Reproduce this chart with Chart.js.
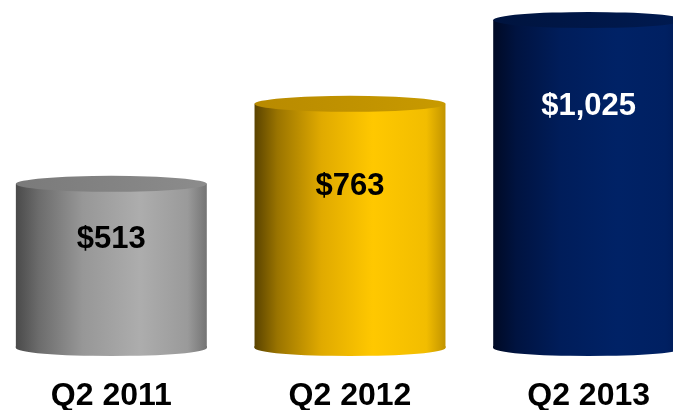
<!DOCTYPE html>
<html>
<head>
<meta charset="utf-8">
<script src="https://cdn.jsdelivr.net/npm/chart.js@4"></script>
<style>
  html, body { margin: 0; padding: 0; background: #fff; overflow: hidden; }
  #wrap { position: absolute; left: -8px; top: 0; width: 716px; height: 410px; }
</style>
</head>
<body>
<div id="wrap"><canvas id="chart" width="716" height="410"></canvas></div>
<script>
const quarters = ['Q2 2011', 'Q2 2012', 'Q2 2013'];
const revenue  = [513, 763, 1025];
const valueLabels = ['$513', '$763', '$1,025'];
const labelColors = ['#000', '#000', '#fff'];

// side shading (left → right) and lid colour for each cylinder
const sideStops = [
  [[0, '#4a4a4a'], [0.12, '#6c6c6c'], [0.35, '#979797'], [0.65, '#adadad'], [0.9, '#9a9a9a'], [1, '#747474']],
  [[0, '#5a4300'], [0.12, '#9a7400'], [0.35, '#e0aa00'], [0.62, '#ffc800'], [0.9, '#f2bd00'], [1, '#c29400']],
  [[0, '#000a25'], [0.12, '#001340'], [0.35, '#001d5a'], [0.65, '#002266'], [0.9, '#002062'], [1, '#001a55']],
];
const lidColors = [['#7a7a7a', '#8c8c8c'], ['#b88a00', '#c89a00'], ['#00143f', '#001a50']];

const BAR_PCT = 0.8;
const RY = 8;

function sideGradient(chart, i, cx, half) {
  const g = chart.ctx.createLinearGradient(cx - half, 0, cx + half, 0);
  sideStops[i].forEach(([o, c]) => g.addColorStop(o, c));
  return g;
}

function shade(c) {
  const chart = c.chart, xs = chart.scales.x;
  if (!chart.chartArea || !xs || c.dataIndex == null) return sideStops[c.dataIndex || 0][3][1];
  const cx = xs.getPixelForValue(c.dataIndex);
  const half = xs.width / quarters.length * BAR_PCT / 2;
  return sideGradient(chart, c.dataIndex, cx, half);
}

const cylinders = {
  id: 'cylinders',
  beforeDatasetsDraw(chart) {
    const ctx = chart.ctx;
    chart.getDatasetMeta(0).data.forEach((bar, i) => {
      const half = bar.width / 2;
      ctx.save();
      ctx.fillStyle = sideGradient(chart, i, bar.x, half);
      ctx.beginPath();
      ctx.moveTo(bar.x - half, bar.base - 2);
      ctx.lineTo(bar.x + half, bar.base - 2);
      ctx.ellipse(bar.x, bar.base, half, RY, 0, 0, Math.PI);
      ctx.closePath();
      ctx.fill();
      ctx.restore();
    });
  },
  afterDatasetsDraw(chart) {
    const ctx = chart.ctx;
    chart.getDatasetMeta(0).data.forEach((bar, i) => {
      const half = bar.width / 2;
      ctx.save();
      const g = ctx.createLinearGradient(bar.x - half, 0, bar.x + half, 0);
      g.addColorStop(0, lidColors[i][0]);
      g.addColorStop(1, lidColors[i][1]);
      ctx.fillStyle = g;
      ctx.beginPath();
      ctx.ellipse(bar.x, bar.y, half, RY, 0, 0, Math.PI * 2);
      ctx.fill();

      const h = bar.base - bar.y;
      ctx.fillStyle = labelColors[i];
      ctx.font = 'bold 31px "Liberation Sans", Arial, sans-serif';
      ctx.textAlign = 'center';
      ctx.textBaseline = 'middle';
      ctx.fillText(valueLabels[i], bar.x, bar.y + Math.min(h * 0.34, 86));
      ctx.restore();
    });
  }
};

new Chart(document.getElementById('chart'), {
  type: 'bar',
  data: {
    labels: quarters,
    datasets: [{
      data: revenue,
      backgroundColor: shade,
      borderWidth: 0,
      barPercentage: BAR_PCT,
      categoryPercentage: 1,
    }],
  },
  options: {
    responsive: false,
    animation: false,
    layout: { padding: 0 },
    plugins: { legend: { display: false }, tooltip: { enabled: false } },
    scales: {
      x: {
        grid: { display: false, drawTicks: false },
        border: { display: false },
        afterFit(scale) { scale.height = 62; },
        ticks: {
          color: '#000',
          padding: 29,
          font: { family: '"Liberation Sans", Arial, sans-serif', size: 32, weight: 'bold' },
        },
      },
      y: { display: false, min: 0, max: 1087.5 },
    },
  },
  plugins: [cylinders],
});
</script>
</body>
</html>
